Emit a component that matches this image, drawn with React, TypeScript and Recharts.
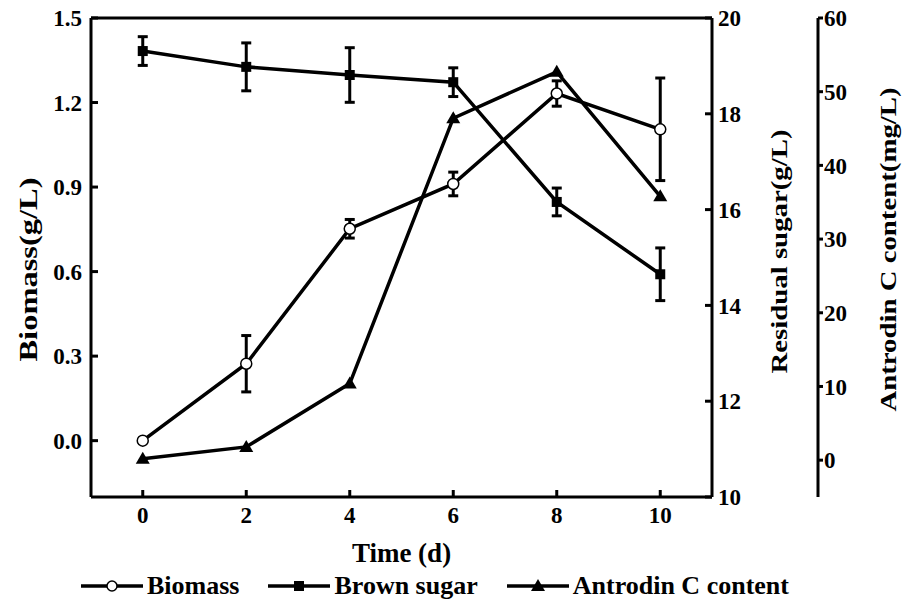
import React from "react";
import { LineChart, Line, XAxis, YAxis, ErrorBar, ReferenceLine, Label } from "recharts";

const FONT = '"Liberation Serif", "Times New Roman", serif';

// culture time (d)
const days = [0, 2, 4, 6, 8, 10];
// biomass g/L with std dev
const biomass = [0.0, 0.273, 0.752, 0.911, 1.232, 1.105];
const biomassErr = [0, 0.1, 0.033, 0.042, 0.045, 0.182];
// residual brown sugar g/L with std dev
const brownSugar = [19.31, 18.98, 18.81, 18.66, 16.16, 14.65];
const brownSugarErr = [0.3, 0.5, 0.57, 0.3, 0.29, 0.55];
// antrodin C mg/L
const antrodin = [0.2, 1.8, 10.4, 46.4, 52.7, 35.8];

const biomassTicks = [0, 0.3, 0.6, 0.9, 1.2, 1.5];
const sugarTicks = [10, 12, 14, 16, 18, 20];
const antrodinTicks = [0, 10, 20, 30, 40, 50, 60];

const data = days.map((d, i) => ({
  day: d,
  biomass: biomass[i],
  biomassErr: biomassErr[i],
  sugar: brownSugar[i],
  sugarErr: brownSugarErr[i],
  antrodin: antrodin[i],
}));

const tickStyle = { fill: "#000", fontSize: 23, fontWeight: "bold", fontFamily: FONT };

function OpenCircle(props: any) {
  const { cx, cy, index } = props;
  if (cx == null || cy == null) return <g key={"c" + index} />;
  return <circle key={"c" + index} cx={cx} cy={cy} r={5.5} fill="#fff" stroke="#000" strokeWidth={1.5} />;
}

function Square(props: any) {
  const { cx, cy, index } = props;
  if (cx == null || cy == null) return <g key={"s" + index} />;
  return <rect key={"s" + index} x={cx - 5} y={cy - 5} width={10} height={10} fill="#000" />;
}

function Triangle(props: any) {
  const { cx, cy, index } = props;
  if (cx == null || cy == null) return <g key={"t" + index} />;
  return <polygon key={"t" + index} points={`${cx},${cy - 7} ${cx - 7},${cy + 5} ${cx + 7},${cy + 5}`} fill="#000" />;
}

// rotated axis title, stretched along its length like the original figure
function VerticalTitle({ viewBox, text, dx, dy, size = 24, stretch = 1.2 }: any) {
  const cx = viewBox.x + dx;
  const cy = viewBox.y + viewBox.height / 2 + dy;
  return (
    <text
      transform={`translate(${cx},${cy}) rotate(-90) scale(${stretch},1)`}
      textAnchor="middle"
      dominantBaseline="central"
      fontSize={size}
      fontWeight="bold"
      fontFamily={FONT}
      fill="#000"
    >
      {text}
    </text>
  );
}

function LegendItem({ label, marker }: { label: string; marker: "circle" | "square" | "triangle" }) {
  return (
    <div style={{ display: "flex", alignItems: "center" }}>
      <svg width={62} height={20}>
        <line x1={0} y1={10} x2={62} y2={10} stroke="#000" strokeWidth={3.5} />
        {marker === "circle" && <circle cx={31} cy={10} r={5} fill="#fff" stroke="#000" strokeWidth={1.5} />}
        {marker === "square" && <rect x={26} y={5} width={10} height={10} fill="#000" />}
        {marker === "triangle" && <polygon points="31,3 24,15 38,15" fill="#000" />}
      </svg>
      <span style={{ marginLeft: 4 }}>{label}</span>
    </div>
  );
}

export default function App() {
  return (
    <div style={{ position: "absolute", left: 0, top: 0, width: 910, height: 603, fontFamily: FONT }}>
      <LineChart width={910} height={603} data={data} margin={{ top: 18, right: 0, bottom: 0, left: 0 }}>
        <XAxis
          dataKey="day"
          type="number"
          domain={[-1, 11]}
          ticks={days}
          height={106}
          stroke="#000"
          strokeWidth={3}
          tickSize={-7}
          tickMargin={17}
          tick={tickStyle}
        >
          <Label
            content={(p: any) => (
              <text
                x={p.viewBox.x + p.viewBox.width / 2}
                y={p.viewBox.y + 65}
                textAnchor="middle"
                fontSize={27}
                fontWeight="bold"
                fontFamily={FONT}
                fill="#000"
              >
                Time (d)
              </text>
            )}
          />
        </XAxis>
        <YAxis
          yAxisId="left"
          domain={[-0.2, 1.5]}
          ticks={biomassTicks}
          tickFormatter={(v: number) => v.toFixed(1)}
          width={91}
          stroke="#000"
          strokeWidth={3}
          tickSize={-7}
          tickMargin={16}
          tick={tickStyle}
          allowDataOverflow
        >
          <Label
            content={(p: any) => (
              <VerticalTitle viewBox={p.viewBox} text="Biomass(g/L)" dx={28} dy={12} size={26} stretch={1.25} />
            )}
          />
        </YAxis>
        <YAxis
          yAxisId="r1"
          orientation="right"
          domain={[10, 20]}
          ticks={sugarTicks}
          width={106}
          stroke="#000"
          strokeWidth={3}
          tickSize={-7}
          tickMargin={13}
          tick={tickStyle}
          allowDataOverflow
        >
          <Label content={(p: any) => <VerticalTitle viewBox={p.viewBox} text="Residual sugar(g/L)" dx={67} dy={-6} />} />
        </YAxis>
        <YAxis
          yAxisId="r2"
          orientation="right"
          domain={[-5, 60]}
          ticks={antrodinTicks}
          width={92}
          stroke="#000"
          strokeWidth={3}
          tickSize={5}
          tickMargin={1}
          tick={tickStyle}
          allowDataOverflow
        >
          <Label content={(p: any) => <VerticalTitle viewBox={p.viewBox} text="Antrodin C content(mg/L)" dx={70} dy={-8} />} />
        </YAxis>
        <ReferenceLine yAxisId="left" y={1.5} stroke="#000" strokeWidth={3} />

        <Line
          yAxisId="r1"
          dataKey="sugar"
          stroke="#000"
          strokeWidth={3.5}
          dot={Square}
          activeDot={false}
          isAnimationActive={false}
        >
          <ErrorBar dataKey="sugarErr" direction="y" width={5} stroke="#000" strokeWidth={3} />
        </Line>
        <Line
          yAxisId="r2"
          dataKey="antrodin"
          stroke="#000"
          strokeWidth={3.5}
          dot={Triangle}
          activeDot={false}
          isAnimationActive={false}
        />
        <Line
          yAxisId="left"
          dataKey="biomass"
          stroke="#000"
          strokeWidth={3.5}
          dot={OpenCircle}
          activeDot={false}
          isAnimationActive={false}
        >
          <ErrorBar dataKey="biomassErr" direction="y" width={5} stroke="#000" strokeWidth={3} />
        </Line>
      </LineChart>
      <div
        style={{
          position: "absolute",
          left: 81,
          top: 573,
          display: "flex",
          alignItems: "center",
          gap: 29,
          fontSize: 26,
          fontWeight: "bold",
          lineHeight: "26px",
          color: "#000",
        }}
      >
        <LegendItem label="Biomass" marker="circle" />
        <LegendItem label="Brown sugar" marker="square" />
        <LegendItem label="Antrodin C content" marker="triangle" />
      </div>
    </div>
  );
}
